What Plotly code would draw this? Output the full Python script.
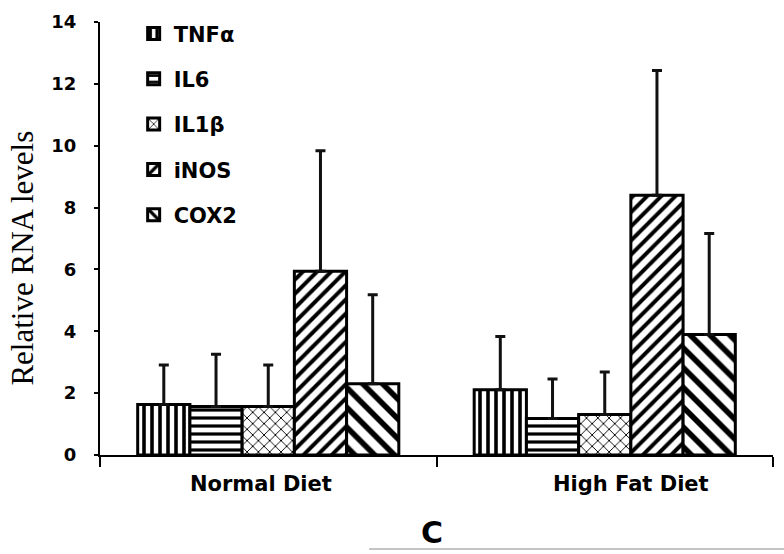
import plotly.graph_objects as go

categories = ["Normal Diet", "High Fat Diet"]
genes = ["TNFα", "IL6", "IL1β", "iNOS", "COX2"]
means = {
    "TNFα": [1.63, 2.11],
    "IL6": [1.57, 1.18],
    "IL1β": [1.57, 1.31],
    "iNOS": [5.94, 8.40],
    "COX2": [2.30, 3.90],
}
errors = {
    "TNFα": [1.28, 1.72],
    "IL6": [1.69, 1.28],
    "IL1β": [1.34, 1.37],
    "iNOS": [3.90, 4.03],
    "COX2": [2.88, 3.26],
}
y_ticks = [0, 2, 4, 6, 8, 10, 12, 14]

patterns = {
    "TNFα": dict(shape="|", size=8, solidity=0.45),
    "IL6": dict(shape="-", size=8, solidity=0.4),
    "IL1β": dict(shape="x", size=8, solidity=0.22),
    "iNOS": dict(shape="/", size=10, solidity=0.4),
    "COX2": dict(shape="\\", size=14, solidity=0.4),
}

fig = go.Figure()
for g in genes:
    p = patterns[g]
    fig.add_trace(go.Bar(
        name=g,
        x=categories,
        y=means[g],
        legendgroup=g,
        marker=dict(
            color="white",
            line=dict(color="black", width=3),
            pattern=dict(shape=p["shape"], size=p["size"], solidity=p["solidity"],
                         fgcolor="black", bgcolor="white", fillmode="replace"),
        ),
        error_y=dict(type="data", array=errors[g], arrayminus=[0] * len(categories),
                     symmetric=False, color="#111", thickness=3, width=5),
    ))

fig.update_layout(
    width=784, height=554,
    margin=dict(l=100, r=11, t=17, b=99),
    paper_bgcolor="white", plot_bgcolor="white",
    barmode="group", bargap=0.224, bargroupgap=0,
    showlegend=True,
    legend=dict(x=0.05, y=1.02, xanchor="left", yanchor="top",
                traceorder="grouped", tracegroupgap=15,
                font=dict(family="DejaVu Sans", size=21, color="black", weight="bold"),
                bgcolor="rgba(0,0,0,0)"),
    font=dict(family="DejaVu Sans", color="black"),
)
fig.update_yaxes(
    range=[0, 14], tickvals=y_ticks, showgrid=False, zeroline=False,
    showline=True, linecolor="black", linewidth=2,
    ticks="outside", ticklen=4, tickwidth=2, tickcolor="black",
    ticklabelstandoff=14,
    tickfont=dict(family="DejaVu Sans", size=18, color="black", weight="bold"),
)
fig.update_xaxes(
    type="category", showgrid=False, zeroline=False,
    showline=True, linecolor="black", linewidth=2,
    ticks="outside", tickson="boundaries", ticklen=10, tickwidth=2, tickcolor="black",
    showticklabels=False,
)

label_shift = {"Normal Diet": -7, "High Fat Diet": 26}
for c in categories:
    fig.add_annotation(x=c, xref="x", y=-0.068, yref="paper", text=c, showarrow=False,
                       xshift=label_shift[c], yanchor="middle",
                       font=dict(family="DejaVu Sans", size=21, color="black", weight="bold"))

fig.add_annotation(x=-0.115, xref="paper", y=0.455, yref="paper", text="Relative RNA levels",
                   textangle=-90, showarrow=False, xanchor="center", yanchor="middle",
                   font=dict(family="Liberation Serif", size=31, color="black"))
fig.add_annotation(x=0.493, xref="paper", y=-0.178, yref="paper", text="C",
                   showarrow=False, xanchor="center", yanchor="middle",
                   font=dict(family="DejaVu Sans", size=30, color="black", weight="bold"))
fig.add_shape(type="line", xref="paper", yref="paper", x0=0.40, x1=1.02, y0=-0.217, y1=-0.217,
              line=dict(color="#c4c4c4", width=2))

fig.write_html("out.html", config={"displayModeBar": False},
               post_script="document.body.style.margin='0';document.body.style.overflow='hidden';")
